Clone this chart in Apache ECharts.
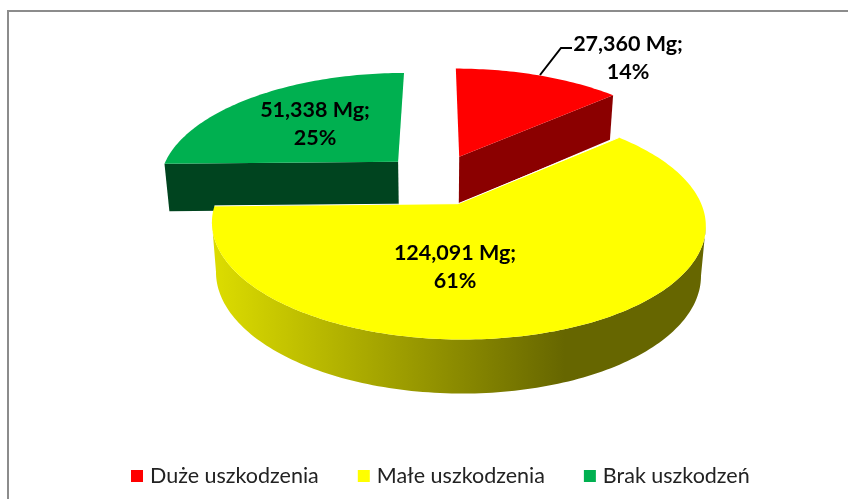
<!DOCTYPE html>
<html><head><meta charset="utf-8">
<style>html,body{margin:0;padding:0;background:#fff}#c{width:848px;height:499px}</style>
<script src="https://cdn.jsdelivr.net/npm/echarts@6/dist/echarts.min.js"></script>
</head><body><div id="c"></div>
<script>
const categories = ['Duże uszkodzenia', 'Małe uszkodzenia', 'Brak uszkodzeń'];
const tonnes = [27360, 124091, 51338];
const percents = [14, 61, 25];
const topColors = ['#ff0000', '#ffff00', '#00b050'];
const sideColors = ['#8b0000', '#666600', '#00441f'];

// projection of the pie disk to the screen
const X0 = 437, Y0 = 179, A = 247, B = 112, K = 0.186, H = 48, SHRINK = 0.982, EXPLODE = 0.227;
const radiusX = [0.98, 0.945, 0.97], radiusY = [1, 0.92, 0.99];
const labelAnchor = [[628, 44], [455, 253], [315, 110]];
const visibleFace = [1, null, 0];   // which radial cut of each slice faces the viewer
const total = tonnes.reduce((a, b) => a + b, 0);

function sliceAngles(i) {
  const before = tonnes.slice(0, i).reduce((a, b) => a + b, 0);
  return [before / total * 2 * Math.PI, (before + tonnes[i]) / total * 2 * Math.PI];
}
function project(U, V) {
  const w = 1 + K * V;
  return { x: X0 + A * U / w, y: Y0 - B * V / w, w };
}
function topPoint(i, t, r) {
  const [a0, a1] = sliceAngles(i), m = (a0 + a1) / 2;
  return project(EXPLODE * Math.sin(m) + r * radiusX[i] * Math.sin(t), EXPLODE * Math.cos(m) + r * radiusY[i] * Math.cos(t));
}
const xy = p => [p.x, p.y];
const low = p => [X0 + (p.x - X0) * SHRINK, p.y + H / Math.sqrt(p.w)];

function renderSlice(i) {
  return function () {
    const [a0, a1] = sliceAngles(i);
    const steps = Math.ceil((a1 - a0) / 0.02);
    const rim = [];
    for (let s = 0; s <= steps; s++) rim.push(topPoint(i, a0 + (a1 - a0) * s / steps, 1));
    const apex = topPoint(i, a0, 0);
    const children = [];
    if (i === 1) {
      // the wall runs between the rim's leftmost and rightmost points, so its outline meets the rim smoothly
      const xs = rim.map(p => p.x);
      const front = rim.slice(xs.indexOf(Math.max(...xs)), xs.indexOf(Math.min(...xs)) + 1);
      children.push({ type: 'polygon', shape: { points: front.map(xy).concat(front.slice().reverse().map(low)) }, style: { fill:
        { type: 'linear', global: true, x: 215, y: 0, x2: 565, y2: 0,
          colorStops: [{ offset: 0, color: '#dcdc00' }, { offset: 1, color: sideColors[1] }] } } });
    } else {
      const e = visibleFace[i] === 1 ? rim[rim.length - 1] : rim[0];
      children.push({ type: 'polygon', shape: { points: [xy(apex), xy(e), low(e), low(apex)] }, style: { fill: sideColors[i] } });
    }
    children.push({ type: 'polygon', shape: { points: [xy(apex)].concat(rim.map(xy)) }, style: { fill: topColors[i] } });
    if (i === 1) {
      // thin light seam along the two cut edges of the large slice
      children.push({ type: 'polyline', shape: { points: [xy(rim[0]), xy(apex), xy(rim[rim.length - 1])] }, style: { fill: null, stroke: '#ffffff', lineWidth: 1 } });
    }
    if (i === 0) {
      children.push({ type: 'polyline', shape: { points: [[540, 75], [561, 48], [572, 48]] }, style: { fill: null, stroke: '#000', lineWidth: 2 } });
    }
    children.push({ type: 'text', style: {
      text: tonnes[i].toLocaleString('en-US') + ' Mg;\n' + percents[i] + '%',
      x: labelAnchor[i][0], y: labelAnchor[i][1] - 14, align: 'center', verticalAlign: 'top',
      fill: '#000', font: 'bold 21.5px Lato', lineHeight: 28 } });
    return { type: 'group', children };
  };
}

const chart = echarts.init(document.getElementById('c'), null, { renderer: 'canvas' });
chart.setOption({
  animation: false,
  backgroundColor: '#ffffff',
  graphic: [
    { type: 'rect', shape: { x: 7, y: 10, width: 841, height: 2 }, style: { fill: '#8c8c8c' } },
    { type: 'rect', shape: { x: 7, y: 10, width: 2, height: 489 }, style: { fill: '#8c8c8c' } }
  ],
  legend: {
    data: categories, left: 126, top: 460, itemWidth: 12, itemHeight: 12, itemGap: 39,
    icon: 'rect', textStyle: { fontFamily: 'Lato', fontSize: 21.5, color: '#222', padding: [0, 0, 0, 2] }
  },
  series: [2, 0, 1].map(i => ({
    type: 'custom', name: categories[i], coordinateSystem: 'none', silent: true,
    itemStyle: { color: topColors[i] }, data: [tonnes[i]], renderItem: renderSlice(i)
  }))
});
</script></body></html>
